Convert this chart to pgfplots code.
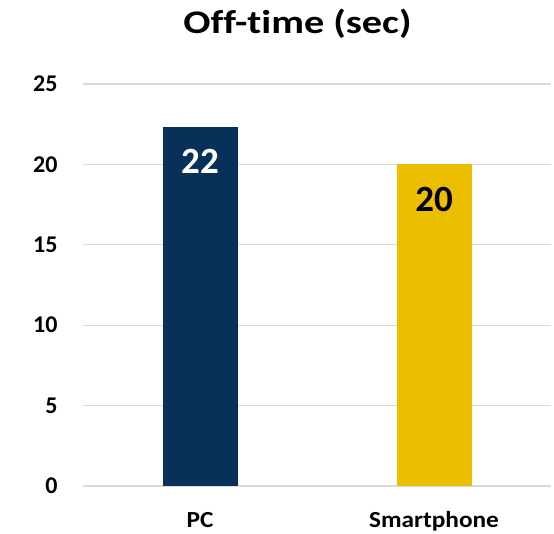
\documentclass[border=0pt]{standalone}
\usepackage{fontspec}
\setmainfont{Carlito}[Ligatures=NoCommon]
\newfontfamily\titlefont{Carlito}[Ligatures=NoCommon, FakeStretch=1.22]
\newfontfamily\catfont{Carlito}[Ligatures=NoCommon, FakeStretch=1.1]
\usepackage{pgfplots}
\pgfplotsset{compat=1.18}
\definecolor{pcnavy}{HTML}{08315A}
\definecolor{phgold}{HTML}{EBBF00}
\definecolor{gridgray}{HTML}{D9D9D9}

\begin{document}
\begin{tikzpicture}
\path[use as bounding box] (0,0) rectangle (554pt,534pt);
\begin{axis}[
    at={(83pt,48pt)}, anchor=south west,
    scale only axis, width=468pt, height=402pt,
    xmin=-0.5, xmax=1.5,
    ymin=0, ymax=25,
    ytick={0,5,10,15,20,25},
    xtick={0,1},
    xticklabels={PC, Smartphone},
    axis line style={draw=none},
    major tick length=0pt,
    ymajorgrids, grid style={gridgray, line width=1.3pt},
    /pgf/number format/assume math mode=true,
    yticklabel style={font=\fontsize{24}{28}\selectfont\bfseries, anchor=east, xshift=-22pt},
    xticklabel style={font=\catfont\fontsize{23}{27}\selectfont\bfseries, anchor=base, yshift=-42pt},
    bar width=75pt,
    ybar, bar shift=0pt,
    clip=false,
]
\addplot[fill=pcnavy, draw=none,
    nodes near coords={22},
    every node near coord/.style={anchor=north, yshift=-19pt, text=white,
        font=\fontsize{37}{40}\selectfont\bfseries}]
    coordinates {(0,22.35)};
\addplot[fill=phgold, draw=none,
    nodes near coords={20},
    every node near coord/.style={anchor=north, yshift=-19pt, text=black,
        font=\fontsize{37}{40}\selectfont\bfseries}]
    coordinates {(1,20.0)};
\end{axis}
\node[font=\titlefont\fontsize{33}{36}\selectfont\bfseries, anchor=base] at (297.5pt,500pt) {Off-time (sec)};
\end{tikzpicture}
\end{document}
